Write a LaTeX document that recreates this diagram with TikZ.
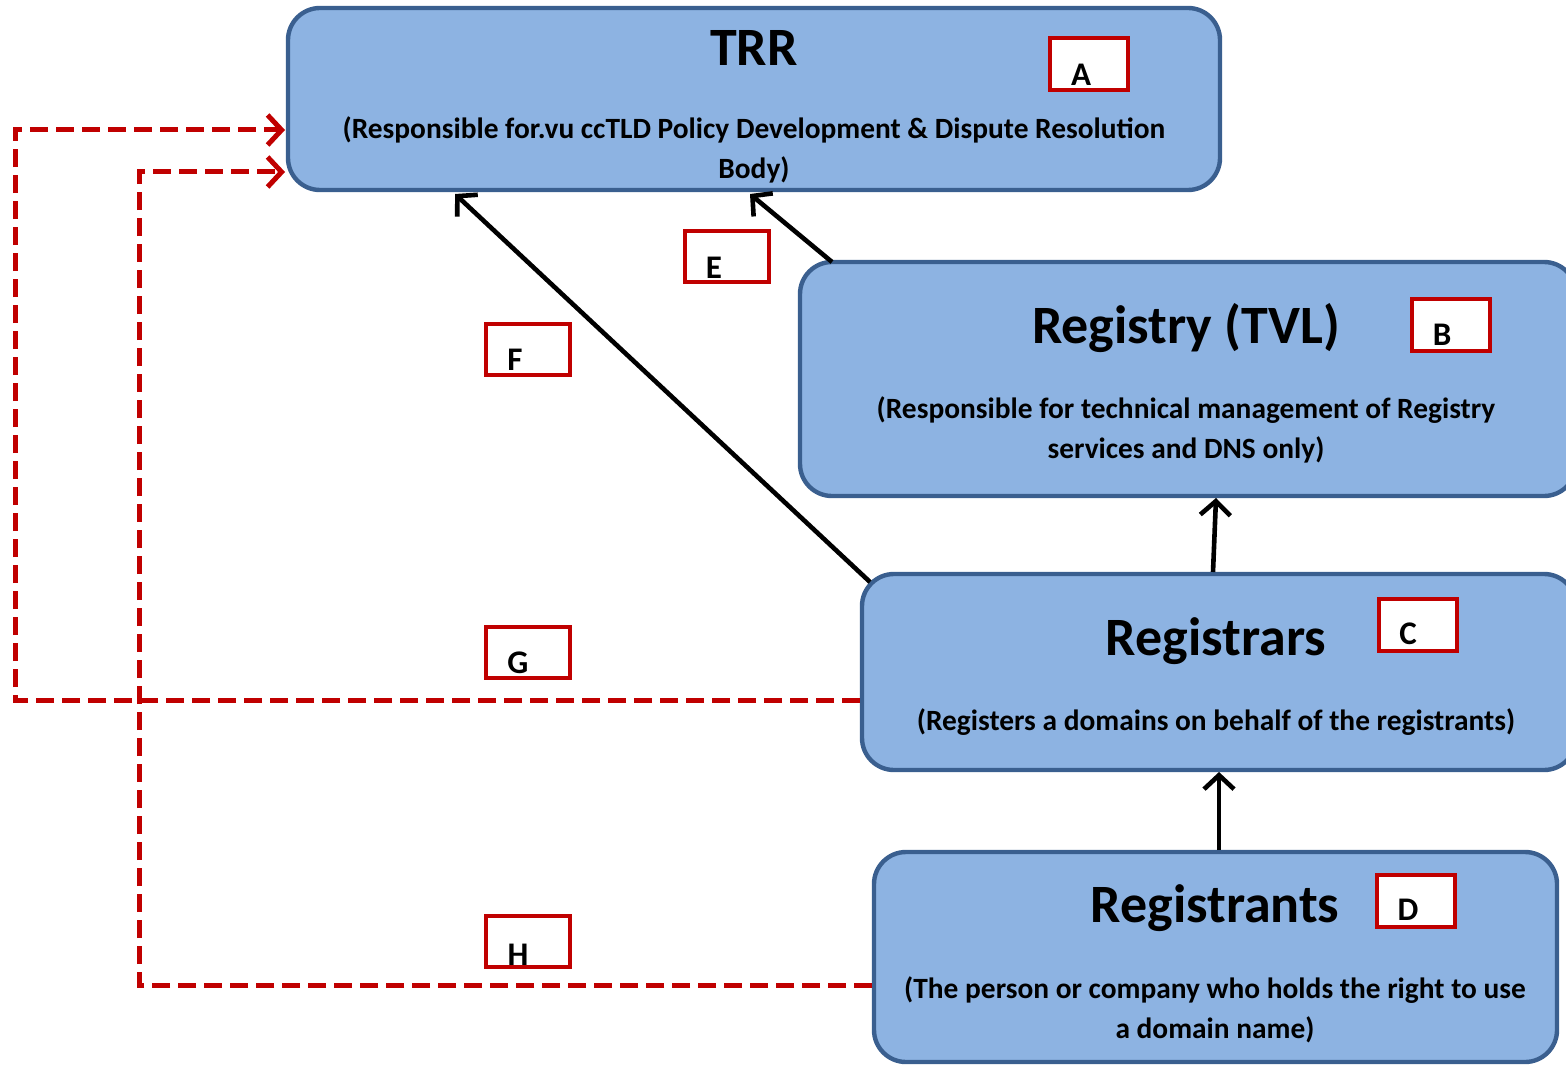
\documentclass[tikz,border=0pt]{standalone}
\usepackage{fontspec}
\setmainfont{Carlito}
\usetikzlibrary{arrows.meta}
\definecolor{boxfill}{HTML}{8DB3E2}
\definecolor{boxedge}{HTML}{3A5F8F}
\definecolor{tagred}{HTML}{C00000}
\tikzset{
  bigbox/.style={draw=boxedge, fill=boxfill, line width=2.2pt, rounded corners=16pt, inner sep=0pt},
  tagbox/.style={draw=tagred, fill=white, line width=2pt, inner sep=0pt, minimum width=39pt, minimum height=26pt},
  tagtxt/.style={font=\bfseries\fontsize{16.5}{18}\selectfont, inner sep=0pt},
  ttl/.style={font=\bfseries\fontsize{27}{30}\selectfont, inner sep=0pt},
  sub/.style={font=\bfseries\fontsize{14.7}{20}\selectfont, inner sep=0pt, align=center},
  solidarrow/.style={line width=2.3pt, -{Straight Barb[length=7pt,width=15pt,line width=2.3pt]}},
  redarrow/.style={draw=tagred, line width=2.5pt, dash pattern=on 9pt off 4pt, -{Straight Barb[length=7pt,width=15pt,line width=2.5pt]}}
}
\begin{document}
\begin{tikzpicture}[x=0.5pt,y=-0.5pt]
\useasboundingbox (0,0) rectangle (1566,1064);
\clip (0,0) rectangle (1566,1064);
% big boxes
\node[bigbox, minimum width=466pt, minimum height=91pt] (trr) at (754,99) {};
\node[bigbox, minimum width=388pt, minimum height=117pt] (reg) at (1188,379) {};
\node[bigbox, minimum width=357pt, minimum height=98pt] (rars) at (1219,672) {};
\node[bigbox, minimum width=341.5pt, minimum height=105pt] (rants) at (1215.5,957) {};
% texts
\node[ttl] (trrT) at (754,48) {TRR};
\node[sub] (trrS) at (754,150) {(Responsible for.vu ccTLD Policy Development \& Dispute Resolution\\Body)};
\node[ttl] (regT) at (1186,328) {Registry (TVL)};
\node[sub] (regS) at (1186,430) {(Responsible for technical management of Registry\\services and DNS only)};
\node[ttl] (rarsT) at (1216,641) {Registrars};
\node[sub] (rarsS) at (1216,722) {(Registers a domains on behalf of the registrants)};
\node[ttl] (rantsT) at (1215,908) {Registrants};
\node[sub] (rantsS) at (1215,1010) {(The person or company who holds the right to use\\a domain name)};
% tag boxes
\node[tagbox] (tA) at (1089,64.5) {};
\node[tagtxt] (lA) at (1081,75) {A};
\node[tagbox] (tB) at (1450.5,324.5) {};
\node[tagtxt] (lB) at (1442,335) {B};
\node[tagbox] (tC) at (1417.5,624.5) {};
\node[tagtxt] (lC) at (1408,634) {C};
\node[tagbox] (tD) at (1415.5,900.5) {};
\node[tagtxt] (lD) at (1408,910) {D};
\node[tagbox, minimum width=42pt, minimum height=25.5pt] (tE) at (727,256.5) {};
\node[tagtxt] (lE) at (714,268) {E};
\node[tagbox, minimum width=42pt, minimum height=25.5pt] (tF) at (528,349.5) {};
\node[tagtxt] (lF) at (515,360) {F};
\node[tagbox, minimum width=42pt, minimum height=25.5pt] (tG) at (528,652.5) {};
\node[tagtxt] (lG) at (518,663) {G};
\node[tagbox, minimum width=42pt, minimum height=25.5pt] (tH) at (528,941.5) {};
\node[tagtxt] (lH) at (518,955) {H};
% coordinates for connector ends
\coordinate (regTL) at (832,262);
\coordinate (trrE) at (750,194);
\coordinate (rarsTL) at (870,582);
\coordinate (trrF) at (455,194);
\coordinate (rarsTop) at (1213,572);
\coordinate (regBot) at (1216,498);
\coordinate (rantsTop) at (1219,850);
\coordinate (rarsBot) at (1219,772);
\coordinate (rarsL) at (860,700);
\coordinate (trrL1) at (285,130);
\coordinate (rantsL) at (872,985);
\coordinate (trrL2) at (285,172);
% solid arrows
\draw[solidarrow] (regTL) -- (trrE);
\draw[solidarrow] (rarsTL) -- (trrF);
\draw[solidarrow] (rarsTop) -- (regBot);
\draw[solidarrow] (rantsTop) -- (rarsBot);
% dashed red arrows
\draw[redarrow] (rarsL) -| (15,130) -- (trrL1);
\draw[redarrow] (rantsL) -| (139,172) -- (trrL2);
\end{tikzpicture}
\end{document}
